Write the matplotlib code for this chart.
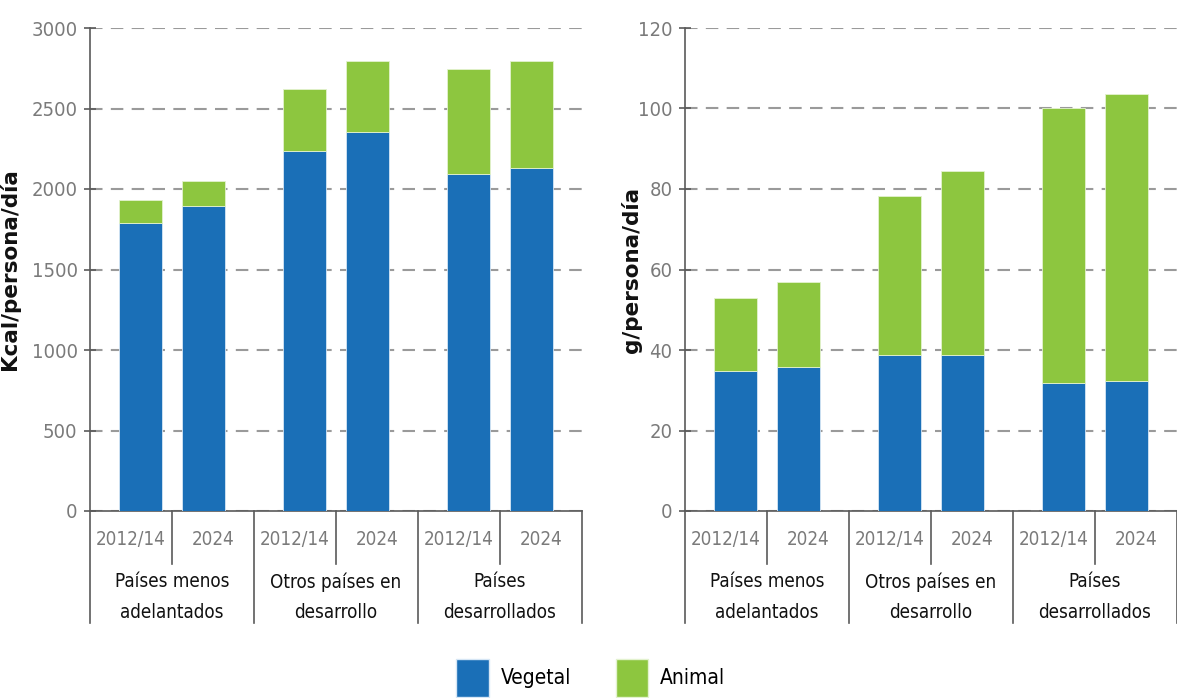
import matplotlib.pyplot as plt
import matplotlib.transforms as mtransforms
from matplotlib.lines import Line2D
from matplotlib.patches import Patch
import numpy as np

GROUPS = ["Países menos\nadelantados", "Otros países en\ndesarrollo", "Países\ndesarrollados"]
YEARS = ["2012/14", "2024"]

# kcal/persona/día, order: group1 (2012/14, 2024), group2 ..., group3 ...
KCAL_VEGETAL = [1790, 1895, 2235, 2355, 2095, 2130]
KCAL_TOTAL = [1930, 2052, 2620, 2795, 2743, 2795]

# g proteína/persona/día
PROT_VEGETAL = [34.7, 35.9, 38.8, 38.8, 31.8, 32.4]
PROT_TOTAL = [52.9, 57.0, 78.2, 84.5, 100.0, 103.5]

BLUE = "#1a6fb7"
GREEN = "#8dc63f"
TICK_GREY = "#7a7a7a"
AXIS_GREY = "#5a5a5a"
FONT = ["DejaVu Sans"]
STRETCH = "condensed"

BAR_W = 0.262
OFFSET = 0.195


def draw_panel(ax, vegetal, total, ymax, step, ylabel, label_x):
    vegetal = np.array(vegetal)
    animal = np.array(total) - vegetal
    centers = np.arange(len(GROUPS)) + 0.5
    xs = np.ravel([[c - OFFSET, c + OFFSET] for c in centers])

    ax.bar(xs, vegetal, BAR_W, color=BLUE, edgecolor="#d6e6f5", linewidth=0.6, zorder=3)
    ax.bar(xs, animal, BAR_W, bottom=vegetal, color=GREEN, edgecolor="#e3f2cf",
           linewidth=0.6, zorder=3)

    ax.set_xlim(0, len(GROUPS))
    ax.set_ylim(0, ymax)
    ax.set_yticks(np.arange(0, ymax + step, step))
    ax.yaxis.grid(True, linestyle=(0, (6, 4)), color="#9a9a9a", linewidth=1.5)
    ax.set_axisbelow(True)

    for side in ("top", "right"):
        ax.spines[side].set_visible(False)
    for side in ("left", "bottom"):
        ax.spines[side].set_color(AXIS_GREY)
        ax.spines[side].set_linewidth(1.2)

    ax.tick_params(axis="y", direction="inout", length=8, width=1.2, color=AXIS_GREY,
                   labelcolor=TICK_GREY, labelsize=14.5, pad=5)
    for lab in ax.get_yticklabels():
        lab.set_family(FONT)
        lab.set_stretch(STRETCH)
    ax.set_xticks([])

    ax.set_ylabel(ylabel, fontsize=15.5, family="DejaVu Sans", fontweight="bold", color="#111111")
    ax.yaxis.set_label_coords(label_x, 0.5)

    trans = mtransforms.blended_transform_factory(ax.transData, ax.transAxes)
    for i, c in enumerate(centers):
        for j, off in enumerate((-0.25, 0.25)):
            ax.text(c + off, -0.06, YEARS[j], transform=trans, ha="center", va="center",
                    fontsize=13.5, color=TICK_GREY, family=FONT, stretch=STRETCH)
        ax.text(c, -0.178, GROUPS[i], transform=trans, ha="center", va="center",
                fontsize=13.5, color="#111111", family=FONT, stretch=STRETCH, linespacing=1.75)
        # short separator between years
        ax.add_line(Line2D([c, c], [0, -0.11], transform=trans, color=AXIS_GREY,
                           linewidth=1.2, clip_on=False))
    # long separators between groups
    for g in range(len(GROUPS) + 1):
        ax.add_line(Line2D([g, g], [0, -0.232], transform=trans, color=AXIS_GREY,
                           linewidth=1.2, clip_on=False))


fig = plt.figure(figsize=(11.77, 6.98), dpi=100)
ax1 = fig.add_axes([90 / 1177, 1 - 511 / 698, 492 / 1177, 483 / 698])
ax2 = fig.add_axes([685 / 1177, 1 - 511 / 698, 492 / 1177, 483 / 698])

draw_panel(ax1, KCAL_VEGETAL, KCAL_TOTAL, 3000, 500, "Kcal/persona/día", -0.142)
draw_panel(ax2, PROT_VEGETAL, PROT_TOTAL, 120, 20, "g/persona/día", -0.088)

handles = [Patch(facecolor=BLUE, edgecolor="#d6e6f5"), Patch(facecolor=GREEN, edgecolor="#e3f2cf")]
fig.legend(handles, ["Vegetal", "Animal"], loc="center", ncol=2,
           bbox_to_anchor=(0.502, 1 - 678 / 698), frameon=False, handlelength=1.54,
           handleheight=2.4, columnspacing=2.16, handletextpad=0.58,
           prop={"family": FONT, "size": 15, "stretch": STRETCH})

fig.savefig("out.png", dpi=100)
